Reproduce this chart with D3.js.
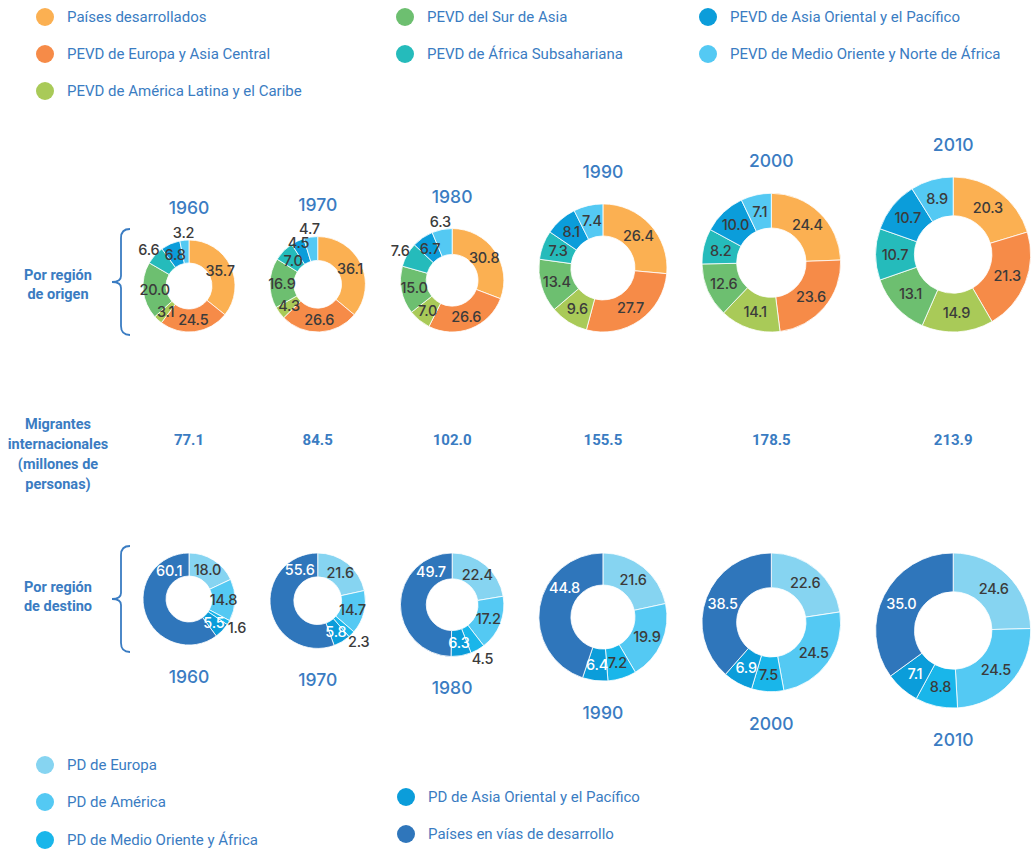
<!DOCTYPE html>
<html>
<head>
<meta charset="utf-8">
<script src="https://cdn.jsdelivr.net/npm/d3@7"></script>
<style>
  body { margin: 0; background: #fff; }
  svg { display: block; }
</style>
</head>
<body>
<div id="chart"></div>
<script>
// data
var years = [1960, 1970, 1980, 1990, 2000, 2010];
var totals = [77.1, 84.5, 102.0, 155.5, 178.5, 213.9];

var originNames = ["Países desarrollados", "PEVD de Europa y Asia Central", "PEVD de América Latina y el Caribe",
    "PEVD del Sur de Asia", "PEVD de África Subsahariana", "PEVD de Asia Oriental y el Pacífico",
    "PEVD de Medio Oriente y Norte de África"];
var origin1960 = [35.7, 24.5, 3.1, 20.0, 6.6, 6.8, 3.2];
var origin1970 = [36.1, 26.6, 4.3, 16.9, 7.0, 4.5, 4.7];
var origin1980 = [30.8, 26.6, 7.0, 15.0, 7.6, 6.7, 6.3];
var origin1990 = [26.4, 27.7, 9.6, 13.4, 7.3, 8.1, 7.4];
var origin2000 = [24.4, 23.6, 14.1, 12.6, 8.2, 10.0, 7.1];
var origin2010 = [20.3, 21.3, 14.9, 13.1, 10.7, 10.7, 8.9];

var destNames = ["PD de Europa", "PD de América", "PD de Medio Oriente y África",
    "PD de Asia Oriental y el Pacífico", "Países en vías de desarrollo"];
var dest1960 = [18.0, 14.8, 1.6, 5.5, 60.1];
var dest1970 = [21.6, 14.7, 2.3, 5.8, 55.6];
var dest1980 = [22.4, 17.2, 4.5, 6.3, 49.7];
var dest1990 = [21.6, 19.9, 7.2, 6.4, 44.8];
var dest2000 = [22.6, 24.5, 7.5, 6.9, 38.5];
var dest2010 = [24.6, 24.5, 8.8, 7.1, 35.0];

var origin = [origin1960, origin1970, origin1980, origin1990, origin2000, origin2010];
var dest = [dest1960, dest1970, dest1980, dest1990, dest2000, dest2010];

// styling
var originColors = ["#fbb052", "#f68b48", "#a9ca58", "#6dbf70", "#25bbbb", "#0b9dda", "#54c9f3"];
var destColors = ["#86d4f1", "#54c9f3", "#19b6ea", "#0b9dda", "#2f76bb"];
var blue = "#3a7cc2";
var labelDark = "#3b3b3b";
var numFont = "Inter, 'Noto Sans', sans-serif";

// small slices whose labels sit on the rim
var originOutside = {1960: [4, 6], 1970: [6], 1980: [4, 6]};
var destOutside = {1960: [2], 1970: [2], 1980: [2]};
// the big dark slice label is nudged toward its end in the early years
var destLastAngle = {1960: 325, 1970: 330, 1980: 327, 1990: 307};
// crowded labels moved along the radius (fraction of outer radius)
var originLabelRadius = {"1970-5": 0.95, "1970-4": 0.72};

var width = 1034, height = 853;
var svg = d3.select("#chart").append("svg")
    .attr("width", width)
    .attr("height", height)
    .style("font-family", "Roboto, 'Noto Sans', sans-serif");

var rScale = d3.scaleLinear().domain([77.1, 213.9]).range([46, 77.5]);
var gap = 35, left0 = 143;

// centres along the row, edge to edge with a fixed gap
var cx = [];
var edge = left0;
totals.forEach(function(t) {
    var r = rScale(t);
    cx.push(edge + r);
    edge += 2 * r + gap;
});

var pie = d3.pie().sort(null).value(function(d) { return d; });

function drawDonut(g, values, colors, r, year, outsideIdx, isDest) {
    var arc = d3.arc().innerRadius(r * 0.5).outerRadius(r);
    var arcs = pie(values);

    g.selectAll("path")
        .data(arcs)
        .enter().append("path")
        .attr("d", arc)
        .attr("fill", function(d, i) { return colors[i]; })
        .attr("stroke", "#fff")
        .attr("stroke-width", 0.8);

    g.selectAll("text")
        .data(arcs)
        .enter().append("text")
        .attr("text-anchor", "middle")
        .attr("dy", "0.36em")
        .style("font-family", numFont)
        .style("font-size", "14.5px")
        .style("font-weight", 500)
        .style("letter-spacing", "-0.2px")
        .attr("fill", function(d, i) {
            var out = outsideIdx.indexOf(i) >= 0;
            if (isDest && i >= 3 && !out) return "#fff";
            return labelDark;
        })
        .attr("transform", function(d, i) {
            var a = (d.startAngle + d.endAngle) / 2;
            var rad = r * 0.75;
            if (!isDest && originLabelRadius[year + "-" + i]) rad = r * originLabelRadius[year + "-" + i];
            if (outsideIdx.indexOf(i) >= 0) rad = r + (isDest ? 10 : 8);
            if (isDest && i === values.length - 1 && destLastAngle[year] != null) {
                a = destLastAngle[year] * Math.PI / 180;
            }
            return "translate(" + (Math.sin(a) * rad) + "," + (-Math.cos(a) * rad) + ")";
        })
        .text(function(d) { return d3.format(".1f")(d.data); });
}

// top row: bottoms aligned, bottom row: tops aligned
var topBase = 332, botTop = 553, midY = 440;

function yearLabel(x, y, txt) {
    svg.append("text")
        .attr("x", x).attr("y", y)
        .attr("text-anchor", "middle")
        .style("font-family", numFont)
        .style("font-size", "17.5px")
        .style("font-weight", 500)
        .attr("fill", blue)
        .text(txt);
}

years.forEach(function(y, i) {
    var r = rScale(totals[i]);

    var gTop = svg.append("g").attr("transform", "translate(" + cx[i] + "," + (topBase - r) + ")");
    drawDonut(gTop, origin[i], originColors, r, y, originOutside[y] || [], false);
    yearLabel(cx[i], topBase - 2 * r - 26, y);

    var gBot = svg.append("g").attr("transform", "translate(" + cx[i] + "," + (botTop + r) + ")");
    drawDonut(gBot, dest[i], destColors, r, y, destOutside[y] || [], true);
    yearLabel(cx[i], botTop + 2 * r + 38, y);

    svg.append("text")
        .attr("x", cx[i]).attr("y", midY + 5)
        .attr("text-anchor", "middle")
        .style("font-size", "15px")
        .style("font-weight", "bold")
        .attr("fill", blue)
        .text(d3.format(".1f")(totals[i]));
});

// row titles
function block(lines, x, y0, step) {
    var t = svg.append("text")
        .attr("text-anchor", "middle")
        .style("font-size", "14.5px")
        .style("font-weight", "bold")
        .attr("fill", blue);
    lines.forEach(function(l, k) {
        t.append("tspan").attr("x", x).attr("y", y0 + k * step).text(l);
    });
}
block(["Por región", "de origen"], 58, 280, 18.5);
block(["Migrantes", "internacionales", "(millones de", "personas)"], 58, 429, 20);
block(["Por región", "de destino"], 58, 592, 19);

function brace(yTop, yBot) {
    var ym = (yTop + yBot) / 2, xv = 121, xe = 130, xt = 112;
    var p = d3.path();
    p.moveTo(xe, yTop);
    p.quadraticCurveTo(xv, yTop, xv, yTop + 9);
    p.lineTo(xv, ym - 6);
    p.quadraticCurveTo(xv, ym, xt, ym);
    p.quadraticCurveTo(xv, ym, xv, ym + 6);
    p.lineTo(xv, yBot - 9);
    p.quadraticCurveTo(xv, yBot, xe, yBot);
    svg.append("path").attr("d", p.toString())
        .attr("fill", "none").attr("stroke", blue).attr("stroke-width", 1.8);
}
brace(229, 335);
brace(546, 652);

// legends
function legend(names, colors, pos) {
    var g = svg.append("g").selectAll("g")
        .data(names).enter().append("g")
        .attr("transform", function(d, i) { return "translate(" + pos[i][0] + "," + pos[i][1] + ")"; });
    g.append("circle").attr("r", 9).attr("cx", 0).attr("cy", 0)
        .attr("fill", function(d, i) { return colors[i]; });
    g.append("text").attr("x", 22).attr("dy", "0.35em")
        .style("font-size", "15px")
        .attr("fill", blue)
        .text(function(d) { return d; });
}
legend(originNames, originColors,
    [[45, 17], [45, 54], [45, 91], [405, 17], [405, 54], [708, 17], [708, 54]]);
legend(destNames, destColors,
    [[45, 765], [45, 802], [45, 840], [406, 797], [406, 834]]);
</script>
</body>
</html>
